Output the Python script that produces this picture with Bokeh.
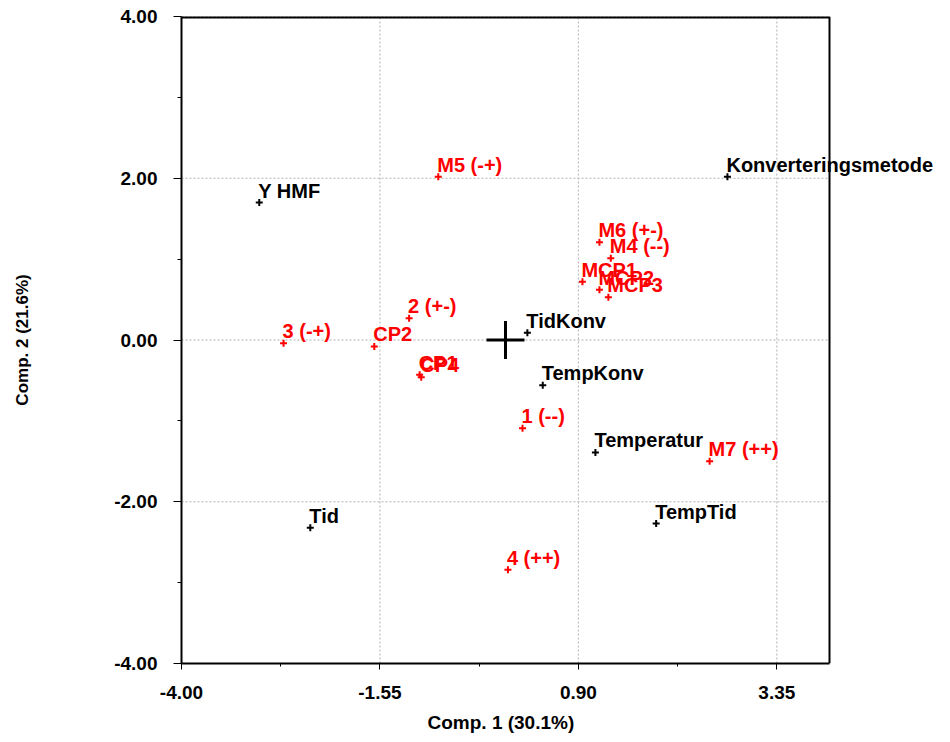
from bokeh.plotting import figure
from bokeh.models import ColumnDataSource, LabelSet, FixedTicker, Range1d, PrintfTickFormatter, Title
from bokeh.core.properties import value
from bokeh.embed import file_html
from bokeh.resources import INLINE

# Variables (black)
var_names = ["Y HMF", "Konverteringsmetode", "TidKonv", "TempKonv", "Temperatur", "TempTid", "Tid"]
var_x = [-3.04, 2.74, 0.27, 0.46, 1.11, 1.86, -2.41]
var_y = [1.70, 2.02, 0.09, -0.56, -1.39, -2.27, -2.32]

# Observations (red)
obs_names = ["M5 (-+)", "M6 (+-)", "M4 (--)", "MCP1", "MCP2", "MCP3", "2 (+-)", "3 (-+)",
             "CP2", "CP1", "CP4", "1 (--)", "4 (++)", "M7 (++)"]
obs_x = [-0.83, 1.16, 1.30, 0.95, 1.16, 1.27, -1.19, -2.74, -1.62, -1.06, -1.04, 0.21, 0.03, 2.52]
obs_y = [2.02, 1.21, 1.01, 0.72, 0.62, 0.53, 0.27, -0.04, -0.08, -0.43, -0.46, -1.09, -2.84, -1.50]

x_ticks = [-4.0, -1.55, 0.90, 3.35]
x_minor = [-2.775, -0.325, 2.125]
y_ticks = [-4.0, -2.0, 0.0, 2.0, 4.0]
y_minor = [-3.0, -1.0, 1.0, 3.0]
x_lim = (-4.0, 4.0)
y_lim = (-4.0, 4.0)
x_title = "Comp. 1 (30.1%)"
y_title = "Comp. 2 (21.6%)"

FONT = "Liberation Sans"

W, H = 942, 742
LEFT, TOP, BOTTOM = 181, 16, 79
box_px = 648  # pixel width of the -4..4 box
x_end = x_lim[1] + (W - LEFT - box_px) * (x_lim[1] - x_lim[0]) / box_px

p = figure(width=W, height=H, x_range=Range1d(x_lim[0], x_end), y_range=Range1d(*y_lim),
           output_backend="svg", toolbar_location=None,
           min_border_left=LEFT, min_border_right=0, min_border_top=TOP, min_border_bottom=BOTTOM)
p.background_fill_color = "white"
p.border_fill_color = "white"
p.outline_line_color = None
p.xgrid.visible = False
p.ygrid.visible = False

p.xaxis.ticker = FixedTicker(ticks=x_ticks, minor_ticks=x_minor)
p.yaxis.ticker = FixedTicker(ticks=y_ticks, minor_ticks=y_minor)
p.xaxis.bounds = x_lim
p.yaxis.bounds = y_lim
for ax in (p.xaxis, p.yaxis):
    ax.formatter = PrintfTickFormatter(format="%.2f")
    ax.axis_line_color = "black"
    ax.axis_line_width = 2
    ax.major_tick_in = 0
    ax.minor_tick_in = 0
    ax.major_tick_line_color = "black"
    ax.minor_tick_line_color = "black"
    ax.major_tick_line_width = 1
    ax.minor_tick_line_width = 1
    ax.major_label_text_font = FONT
    ax.major_label_text_font_style = "bold"
    ax.major_label_text_font_size = "19px"
    ax.major_label_text_color = "black"
    ax.axis_label_text_font = FONT
    ax.axis_label_text_font_style = "bold"
    ax.axis_label_text_color = "black"

p.xaxis.major_tick_out = 6
p.xaxis.minor_tick_out = 3
p.xaxis.major_label_standoff = 16

p.yaxis.major_tick_out = 8
p.yaxis.minor_tick_out = 4
p.yaxis.major_label_standoff = 16
p.yaxis.axis_label = y_title
p.yaxis.axis_label_text_font_size = "17px"
p.yaxis.axis_label_standoff = 79

# x-axis title placed under the -4..4 box (the frame is wider so long labels fit)
p.add_layout(Title(text=x_title, align="left", offset=246,
                   text_font=FONT, text_font_size="19px", text_font_style="bold",
                   text_color="black", standoff=17), "below")

# dotted grid lines inside the box
p.segment(x0=x_ticks, y0=[y_lim[0]] * len(x_ticks), x1=x_ticks, y1=[y_lim[1]] * len(x_ticks),
          line_color="#b0b0b0", line_dash="2 2", line_width=1)
p.segment(x0=[x_lim[0]] * len(y_ticks), y0=y_ticks, x1=[x_lim[1]] * len(y_ticks), y1=y_ticks,
          line_color="#b0b0b0", line_dash="2 2", line_width=1)
# top and right edges of the box
p.segment(x0=[x_lim[0]], y0=[y_lim[1]], x1=[x_lim[1]], y1=[y_lim[1]], line_color="black", line_width=4)
p.segment(x0=[x_lim[1]], y0=[y_lim[0]], x1=[x_lim[1]], y1=[y_lim[1]], line_color="black", line_width=2)

var_src = ColumnDataSource(dict(x=var_x, y=var_y, name=var_names))
obs_src = ColumnDataSource(dict(x=obs_x, y=obs_y, name=obs_names))

p.scatter("x", "y", source=var_src, marker="cross", size=7, line_width=2, line_color="black")
p.scatter("x", "y", source=obs_src, marker="cross", size=7, line_width=2, line_color="red")
p.scatter([0], [0], marker="cross", size=38, line_width=3, line_color="black")

for src, col in ((var_src, "black"), (obs_src, "red")):
    p.add_layout(LabelSet(x="x", y="y", text="name", source=src, x_offset=-1, y_offset=5,
                          text_font=value(FONT), text_font_size="20px", text_font_style="bold",
                          text_color=col, text_align="left", text_baseline="alphabetic"))

open("out.html", "w").write(file_html(p, INLINE))
